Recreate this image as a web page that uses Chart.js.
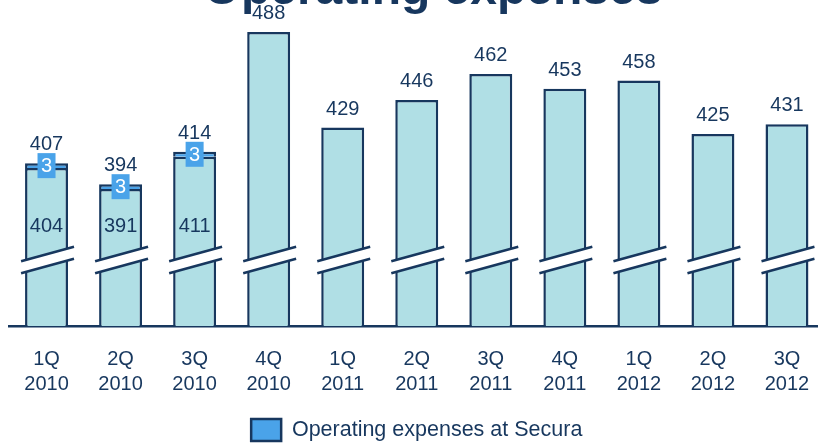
<!DOCTYPE html>
<html>
<head>
<meta charset="utf-8">
<script src="https://cdn.jsdelivr.net/npm/chart.js@4"></script>
<style>
  html, body { margin: 0; padding: 0; overflow: hidden; background: #ffffff; }
  #wrap { width: 826px; height: 451px; }
</style>
</head>
<body>
<div id="wrap"><canvas id="chart" width="826" height="451"></canvas></div>
<script>
// Quarterly operating expenses
const quarters = ['1Q', '2Q', '3Q', '4Q', '1Q', '2Q', '3Q', '4Q', '1Q', '2Q', '3Q'];
const years = ['2010', '2010', '2010', '2010', '2011', '2011', '2011', '2011', '2012', '2012', '2012'];
const coreExpenses = [404, 391, 411, 488, 429, 446, 462, 453, 458, 425, 431];
const securaExpenses = [3, 3, 3, null, null, null, null, null, null, null, null];

// Broken value axis: only the upper part of each bar is shown
const axisMin = 306.5;
const axisMax = 495.4;

const NAVY = '#17375E';
const BAR_FILL = '#B0DFE5';
const SECURA = '#4AA3E9';
const FONT = '"Liberation Sans", Arial, Helvetica, sans-serif';

const categoryLabels = quarters.map((q, i) => [q, years[i]]);
const totals = coreExpenses.map((v, i) => v + (securaExpenses[i] || 0));

const annotations = {
  id: 'annotations',
  afterDatasetsDraw(chart) {
    const ctx = chart.ctx;
    const area = chart.chartArea;
    const yScale = chart.scales.y;
    const core = chart.getDatasetMeta(0).data;

    ctx.save();
    // axis break drawn across every bar
    const upperMid = area.bottom - 72;
    const gap = 12;
    core.forEach((bar) => {
      const left = bar.x - bar.width / 2 - 4;
      const right = bar.x + bar.width / 2 + 6;
      const half = 7.2;
      const cx = (left + right) / 2;
      const slope = (2 * half) / (right - left);
      const yAt = (x, mid) => mid - (x - cx) * slope;
      ctx.fillStyle = '#ffffff';
      ctx.beginPath();
      ctx.moveTo(left, yAt(left, upperMid));
      ctx.lineTo(right, yAt(right, upperMid));
      ctx.lineTo(right, yAt(right, upperMid + gap));
      ctx.lineTo(left, yAt(left, upperMid + gap));
      ctx.closePath();
      ctx.fill();
      ctx.strokeStyle = NAVY;
      ctx.lineWidth = 2.5;
      [upperMid, upperMid + gap].forEach((mid) => {
        ctx.beginPath();
        ctx.moveTo(left, yAt(left, mid));
        ctx.lineTo(right, yAt(right, mid));
        ctx.stroke();
      });
    });

    ctx.font = '20px ' + FONT;
    ctx.textAlign = 'center';
    core.forEach((bar, i) => {
      // total above the bar
      const topY = yScale.getPixelForValue(totals[i]);
      ctx.fillStyle = NAVY;
      ctx.textBaseline = 'alphabetic';
      ctx.fillText(String(totals[i]), bar.x, topY - 13);

      const s = securaExpenses[i];
      if (s) {
        // core value above the break
        ctx.textBaseline = 'middle';
        ctx.fillText(String(coreExpenses[i]), bar.x, upperMid - 28);
        // Secura value in a blue tag on its segment
        const segY = yScale.getPixelForValue(coreExpenses[i] + s / 2);
        ctx.fillStyle = SECURA;
        ctx.fillRect(bar.x - 9, segY - 12.5, 18, 25);
        ctx.fillStyle = '#ffffff';
        ctx.fillText(String(s), bar.x, segY + 1);
      }
    });
    ctx.restore();
  },
  afterDraw(chart) {
    const ctx = chart.ctx;
    ctx.save();
    ctx.font = 'bold 48px ' + FONT;
    ctx.fillStyle = NAVY;
    ctx.textAlign = 'center';
    ctx.textBaseline = 'alphabetic';
    ctx.fillText('Operating expenses', 433, 4);
    ctx.restore();
  }
};

new Chart(document.getElementById('chart'), {
  type: 'bar',
  data: {
    labels: categoryLabels,
    datasets: [
      {
        label: 'Operating expenses',
        data: coreExpenses,
        backgroundColor: BAR_FILL,
        borderColor: NAVY,
        borderWidth: 2.5,
        categoryPercentage: 1,
        barPercentage: 0.58
      },
      {
        label: 'Operating expenses at Secura',
        data: securaExpenses,
        backgroundColor: SECURA,
        borderColor: NAVY,
        borderWidth: 2.5,
        categoryPercentage: 1,
        barPercentage: 0.58
      }
    ]
  },
  options: {
    responsive: false,
    animation: false,
    layout: { padding: { left: 9.5, right: 2, top: 20, bottom: 0 } },
    scales: {
      x: {
        stacked: true,
        grid: { display: false, drawTicks: true, tickLength: 18 },
        border: { display: true, color: NAVY, width: 2.5 },
        ticks: {
          color: NAVY,
          padding: 2.5,
          font: { family: FONT, size: 20, lineHeight: 1.25 },
          maxRotation: 0,
          autoSkip: false
        },
        afterFit: (axis) => { axis.height = 68.5; }
      },
      y: {
        stacked: true,
        display: false,
        min: axisMin,
        max: axisMax
      }
    },
    plugins: {
      title: { display: false },
      tooltip: { enabled: false },
      legend: {
        position: 'bottom',
        labels: {
          filter: (item) => item.datasetIndex === 1,
          color: NAVY,
          boxWidth: 30,
          boxHeight: 22,
          padding: 24.5,
          font: { family: FONT, size: 21.5 }
        }
      }
    }
  },
  plugins: [annotations]
});
</script>
</body>
</html>
